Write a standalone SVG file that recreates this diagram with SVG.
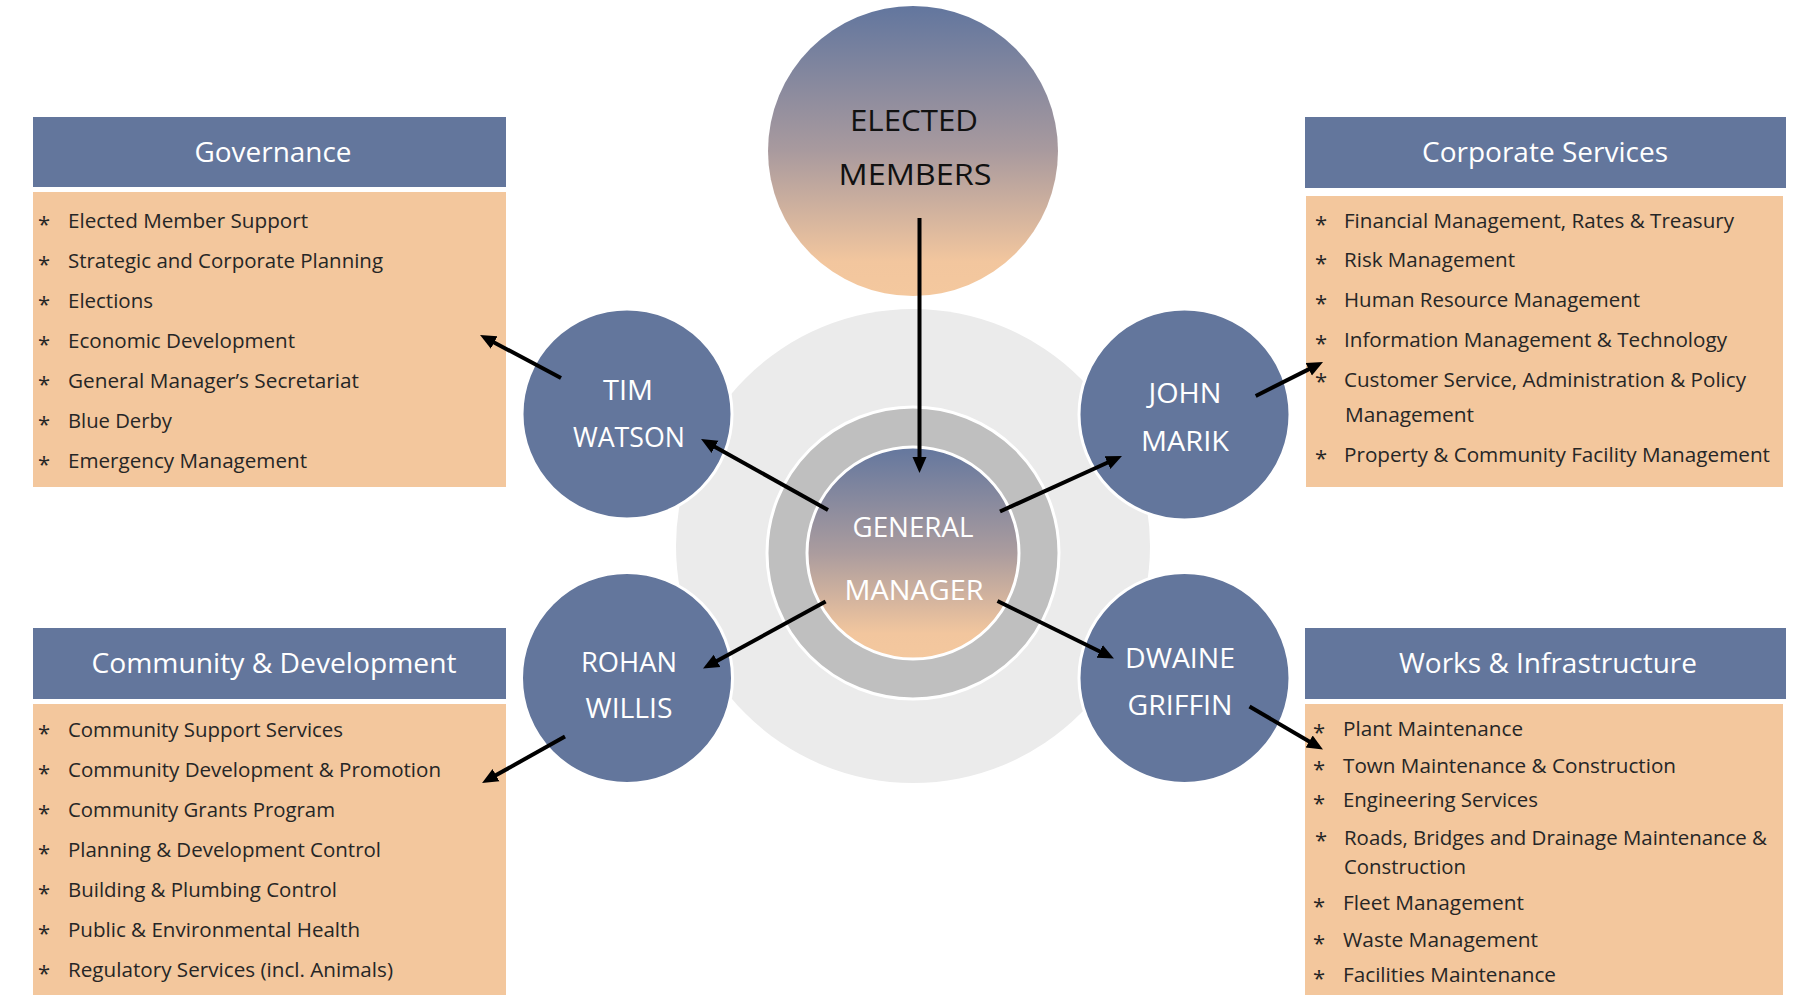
<svg xmlns="http://www.w3.org/2000/svg" width="1803" height="995" viewBox="0 0 1803 995">
<defs>
<linearGradient id="gradEM" x1="0" y1="0" x2="0" y2="1">
<stop offset="0" stop-color="#62769e"/>
<stop offset="0.5" stop-color="#a99a9e"/>
<stop offset="0.88" stop-color="#f2c69e"/>
<stop offset="1" stop-color="#f4c89e"/>
</linearGradient>
<linearGradient id="gradGM" x1="0" y1="0" x2="0" y2="1">
<stop offset="0" stop-color="#64779e"/>
<stop offset="0.5" stop-color="#ab9c9e"/>
<stop offset="0.88" stop-color="#f2c69e"/>
<stop offset="1" stop-color="#f4c89e"/>
</linearGradient>
<marker id="arrow" markerUnits="userSpaceOnUse" markerWidth="18" markerHeight="16" refX="7" refY="8" orient="auto">
<path d="M0,1 L16,8 L0,15 z" fill="#000"/>
</marker>
</defs>
<style>
.hdr{fill:#63769c}
.body{fill:#f3c79d}
.hdrtxt{font-family:"Open Sans","Liberation Sans",sans-serif;font-size:27px;fill:#ffffff;text-anchor:middle}
.item{font-family:"Open Sans","Liberation Sans",sans-serif;font-size:20px;fill:#262626}
.bul{font-family:"Open Sans","Liberation Sans",sans-serif;font-size:22px;fill:#262626;text-anchor:middle}
.person{fill:#63769c;stroke:#ffffff;stroke-width:3}
.name{font-family:"Open Sans","Liberation Sans",sans-serif;font-size:28px;fill:#ffffff;text-anchor:middle}
.em{font-family:"Open Sans","Liberation Sans",sans-serif;font-size:30px;fill:#111111;text-anchor:middle}
.gm{font-family:"Open Sans","Liberation Sans",sans-serif;font-size:27px;fill:#ffffff;text-anchor:middle}
.conn{stroke:#000;stroke-width:4;fill:none;marker-end:url(#arrow)}
</style>
<rect width="1803" height="995" fill="#ffffff"/>

<g id="background-rings">
<circle cx="913" cy="546" r="237" fill="#ebebeb"/>
<circle cx="913" cy="553" r="146" fill="#bfbfbf" stroke="#ffffff" stroke-width="3"/>
</g>

<g id="elected-members">
<circle cx="913" cy="151" r="145" fill="url(#gradEM)"/>
<text class="em" x="914" y="131" textLength="128" lengthAdjust="spacingAndGlyphs">ELECTED</text>
<text class="em" x="915" y="185" textLength="153" lengthAdjust="spacingAndGlyphs">MEMBERS</text>
</g>

<g id="general-manager">
<circle cx="913" cy="553" r="106" fill="url(#gradGM)" stroke="#ffffff" stroke-width="3"/>
<text class="gm" x="913" y="537" textLength="121" lengthAdjust="spacingAndGlyphs">GENERAL</text>
<text class="gm" x="914" y="600" textLength="139" lengthAdjust="spacingAndGlyphs">MANAGER</text>
</g>

<g id="tim-watson">
<circle class="person" cx="627" cy="414" r="105"/>
<text class="name" x="628" y="400" textLength="50" lengthAdjust="spacingAndGlyphs">TIM</text>
<text class="name" x="629" y="447" textLength="112" lengthAdjust="spacingAndGlyphs">WATSON</text>
</g>

<g id="john-marik">
<circle class="person" cx="1184.5" cy="414.5" r="105.5"/>
<text class="name" x="1185" y="403" textLength="73" lengthAdjust="spacingAndGlyphs">JOHN</text>
<text class="name" x="1185" y="451" textLength="88" lengthAdjust="spacingAndGlyphs">MARIK</text>
</g>

<g id="rohan-willis">
<circle class="person" cx="627" cy="678" r="105.5"/>
<text class="name" x="629" y="672" textLength="96" lengthAdjust="spacingAndGlyphs">ROHAN</text>
<text class="name" x="629" y="718" textLength="87" lengthAdjust="spacingAndGlyphs">WILLIS</text>
</g>

<g id="dwaine-griffin">
<circle class="person" cx="1184.5" cy="678" r="105.5"/>
<text class="name" x="1180" y="668" textLength="110" lengthAdjust="spacingAndGlyphs">DWAINE</text>
<text class="name" x="1180" y="715" textLength="105" lengthAdjust="spacingAndGlyphs">GRIFFIN</text>
</g>

<g id="governance">
<rect class="hdr" x="33" y="117" width="473" height="70"/>
<rect class="body" x="33" y="192" width="473" height="295"/>
<text class="hdrtxt" x="273" y="162" textLength="157" lengthAdjust="spacingAndGlyphs">Governance</text>
<text class="bul" x="44" y="232">*</text><text class="item" x="68" y="228" textLength="240" lengthAdjust="spacingAndGlyphs">Elected Member Support</text>
<text class="bul" x="44" y="272">*</text><text class="item" x="68" y="268" textLength="315" lengthAdjust="spacingAndGlyphs">Strategic and Corporate Planning</text>
<text class="bul" x="44" y="312">*</text><text class="item" x="68" y="308" textLength="85" lengthAdjust="spacingAndGlyphs">Elections</text>
<text class="bul" x="44" y="352">*</text><text class="item" x="68" y="348" textLength="227" lengthAdjust="spacingAndGlyphs">Economic Development</text>
<text class="bul" x="44" y="392">*</text><text class="item" x="68" y="388" textLength="291" lengthAdjust="spacingAndGlyphs">General Manager’s Secretariat</text>
<text class="bul" x="44" y="432">*</text><text class="item" x="68" y="428" textLength="104" lengthAdjust="spacingAndGlyphs">Blue Derby</text>
<text class="bul" x="44" y="472">*</text><text class="item" x="68" y="468" textLength="239" lengthAdjust="spacingAndGlyphs">Emergency Management</text>
</g>

<g id="corporate-services">
<rect class="hdr" x="1305" y="117" width="481" height="71"/>
<rect class="body" x="1306" y="196" width="477" height="291"/>
<text class="hdrtxt" x="1545" y="162" textLength="246" lengthAdjust="spacingAndGlyphs">Corporate Services</text>
<text class="bul" x="1321" y="232">*</text><text class="item" x="1344" y="228" textLength="390" lengthAdjust="spacingAndGlyphs">Financial Management, Rates &amp; Treasury</text>
<text class="bul" x="1321" y="271">*</text><text class="item" x="1344" y="267" textLength="171" lengthAdjust="spacingAndGlyphs">Risk Management</text>
<text class="bul" x="1321" y="311">*</text><text class="item" x="1344" y="307" textLength="296" lengthAdjust="spacingAndGlyphs">Human Resource Management</text>
<text class="bul" x="1321" y="351">*</text><text class="item" x="1344" y="347" textLength="383" lengthAdjust="spacingAndGlyphs">Information Management &amp; Technology</text>
<text class="bul" x="1321" y="389">*</text><text class="item" x="1344" y="387" textLength="402" lengthAdjust="spacingAndGlyphs">Customer Service, Administration &amp; Policy</text>
<text class="item" x="1345" y="422" textLength="129" lengthAdjust="spacingAndGlyphs">Management</text>
<text class="bul" x="1321" y="466">*</text><text class="item" x="1344" y="462" textLength="426" lengthAdjust="spacingAndGlyphs">Property &amp; Community Facility Management</text>
</g>

<g id="community-development">
<rect class="hdr" x="33" y="628" width="473" height="71"/>
<rect class="body" x="33" y="704" width="473" height="291"/>
<text class="hdrtxt" x="274" y="673" textLength="365" lengthAdjust="spacingAndGlyphs">Community &amp; Development</text>
<text class="bul" x="44" y="741">*</text><text class="item" x="68" y="737" textLength="275" lengthAdjust="spacingAndGlyphs">Community Support Services</text>
<text class="bul" x="44" y="781">*</text><text class="item" x="68" y="777" textLength="373" lengthAdjust="spacingAndGlyphs">Community Development &amp; Promotion</text>
<text class="bul" x="44" y="821">*</text><text class="item" x="68" y="817" textLength="267" lengthAdjust="spacingAndGlyphs">Community Grants Program</text>
<text class="bul" x="44" y="861">*</text><text class="item" x="68" y="857" textLength="313" lengthAdjust="spacingAndGlyphs">Planning &amp; Development Control</text>
<text class="bul" x="44" y="901">*</text><text class="item" x="68" y="897" textLength="269" lengthAdjust="spacingAndGlyphs">Building &amp; Plumbing Control</text>
<text class="bul" x="44" y="941">*</text><text class="item" x="68" y="937" textLength="292" lengthAdjust="spacingAndGlyphs">Public &amp; Environmental Health</text>
<text class="bul" x="44" y="981">*</text><text class="item" x="68" y="977" textLength="325" lengthAdjust="spacingAndGlyphs">Regulatory Services (incl. Animals)</text>
</g>

<g id="works-infrastructure">
<rect class="hdr" x="1305" y="628" width="481" height="71"/>
<rect class="body" x="1305" y="704" width="478" height="291"/>
<text class="hdrtxt" x="1548" y="673" textLength="298" lengthAdjust="spacingAndGlyphs">Works &amp; Infrastructure</text>
<text class="bul" x="1319" y="740">*</text><text class="item" x="1343" y="736" textLength="180" lengthAdjust="spacingAndGlyphs">Plant Maintenance</text>
<text class="bul" x="1319" y="777">*</text><text class="item" x="1343" y="773" textLength="333" lengthAdjust="spacingAndGlyphs">Town Maintenance &amp; Construction</text>
<text class="bul" x="1319" y="811">*</text><text class="item" x="1343" y="807" textLength="195" lengthAdjust="spacingAndGlyphs">Engineering Services</text>
<text class="bul" x="1321" y="848">*</text><text class="item" x="1344" y="845" textLength="423" lengthAdjust="spacingAndGlyphs">Roads, Bridges and Drainage Maintenance &amp;</text>
<text class="item" x="1344" y="874" textLength="122" lengthAdjust="spacingAndGlyphs">Construction</text>
<text class="bul" x="1319" y="914">*</text><text class="item" x="1343" y="910" textLength="181" lengthAdjust="spacingAndGlyphs">Fleet Management</text>
<text class="bul" x="1319" y="951">*</text><text class="item" x="1343" y="947" textLength="195" lengthAdjust="spacingAndGlyphs">Waste Management</text>
<text class="bul" x="1319" y="986">*</text><text class="item" x="1343" y="982" textLength="213" lengthAdjust="spacingAndGlyphs">Facilities Maintenance</text>
</g>

<g id="connectors">
<line class="conn" x1="919.5" y1="218" x2="919.5" y2="464"/>
<line class="conn" x1="828" y1="510" x2="708.9" y2="443.4"/>
<line class="conn" x1="561" y1="378" x2="488" y2="339.2"/>
<line class="conn" x1="1000" y1="511.5" x2="1113.8" y2="459.7"/>
<line class="conn" x1="1255.7" y1="396" x2="1315" y2="366.1"/>
<line class="conn" x1="825.6" y1="601.5" x2="710.9" y2="664.2"/>
<line class="conn" x1="565" y1="736.5" x2="489.9" y2="778.6"/>
<line class="conn" x1="997.5" y1="601" x2="1105.9" y2="654.5"/>
<line class="conn" x1="1249.5" y1="706.5" x2="1315.2" y2="745"/>
</g>
</svg>
